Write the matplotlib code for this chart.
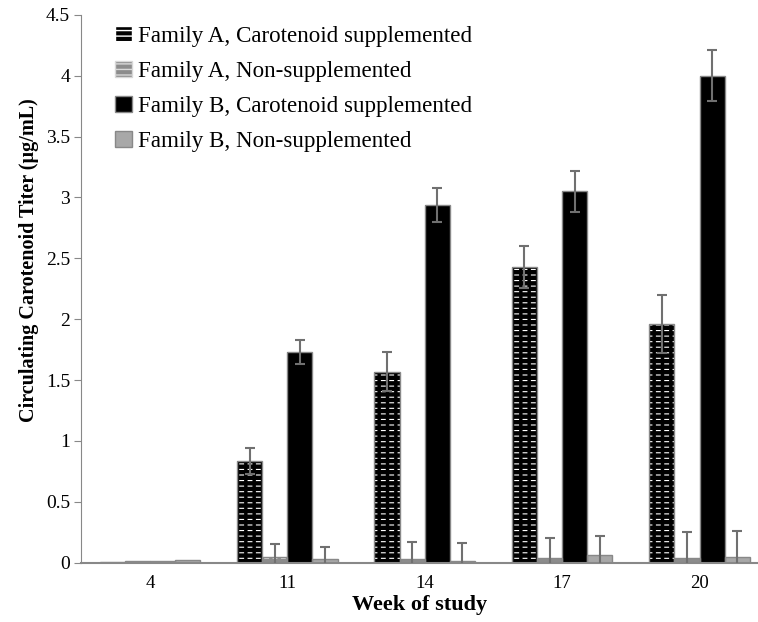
import matplotlib
matplotlib.use("Agg")
import matplotlib.pyplot as plt
from matplotlib.patches import Patch
import numpy as np

weeks = ['4', '11', '14', '17', '20']
labels = ['Family A, Carotenoid supplemented', 'Family A, Non-supplemented',
          'Family B, Carotenoid supplemented', 'Family B, Non-supplemented']

a_supp = [0.01, 0.835, 1.57, 2.43, 1.96]
a_supp_err = [0.0, 0.11, 0.16, 0.17, 0.24]
a_non = [0.015, 0.05, 0.03, 0.04, 0.035]
a_non_err = [0.0, 0.10, 0.14, 0.16, 0.22]
b_supp = [0.015, 1.73, 2.94, 3.05, 4.0]
b_supp_err = [0.0, 0.10, 0.14, 0.17, 0.21]
b_non = [0.025, 0.033, 0.015, 0.06, 0.045]
b_non_err = [0.0, 0.10, 0.145, 0.16, 0.215]

plt.rcParams['font.family'] = ['Liberation Serif', 'DejaVu Serif']

fig = plt.figure(figsize=(7.58, 6.22), dpi=100)
ax = fig.add_axes([0.107, 0.0953, 0.892, 0.881])

x = np.arange(len(weeks))
w = 0.183
offsets = [-1.5 * w, -0.5 * w, 0.5 * w, 1.5 * w]
series = [a_supp, a_non, b_supp, b_non]
errs = [a_supp_err, a_non_err, b_supp_err, b_non_err]
faces = ['black', '#8c8c8c', 'black', '#a8a8a8']
dash_col = ['white', '#d8d8d8', None, None]

for vals, err, off, fc, dc in zip(series, errs, offsets, faces, dash_col):
    if dc is not None:
        # dashed look: thin horizontal hatch lines cut by thick vertical hatch lines
        with plt.rc_context({'hatch.linewidth': 0.8}):
            ax.bar(x + off, vals, w, color=fc, edgecolor=dc, hatch='---', linewidth=0, zorder=2)
        with plt.rc_context({'hatch.linewidth': 2.5}):
            ax.bar(x + off, vals, w, color='none', edgecolor=fc, hatch='||', linewidth=0, zorder=2)
    else:
        ax.bar(x + off, vals, w, color=fc, linewidth=0, zorder=2)
    ax.bar(x + off, vals, w, color='none', edgecolor='#888888', linewidth=1.0, zorder=3)
    yerr = [e if e > 0 else np.nan for e in err]
    ax.errorbar(x + off, vals, yerr=yerr, fmt='none', ecolor='#707070',
                elinewidth=1.5, capsize=3.5, capthick=1.5, zorder=4)

handles = []
for fc, dc in zip(faces, dash_col):
    if dc is not None:
        with plt.rc_context({'hatch.linewidth': 0.8}):
            handles.append(Patch(facecolor=fc, edgecolor=dc, hatch='---'))
    else:
        handles.append(Patch(facecolor=fc, edgecolor='#888888'))
leg = ax.legend(handles, labels, loc='upper left', bbox_to_anchor=(0.037, 0.997),
                frameon=False, fontsize=16.6, handlelength=0.72, handleheight=0.72,
                handletextpad=0.25, labelspacing=0.6, borderaxespad=0)

ax.set_xlim(-0.5, 4.42)
ax.set_ylim(0, 4.5)
ax.set_yticks(np.arange(0, 4.51, 0.5))
ax.set_yticklabels(['0', '0.5', '1', '1.5', '2', '2.5', '3', '3.5', '4', '4.5'])
ax.set_xticks(x)
ax.set_xticklabels(weeks)
ax.tick_params(axis='x', length=0, labelsize=13.5, pad=9)
ax.tick_params(axis='y', length=5, color='#888888', labelsize=14, pad=3)
for s in ['top', 'right']:
    ax.spines[s].set_visible(False)
ax.spines['left'].set_color('#888888')
ax.spines['bottom'].set_color('#888888')
ax.spines['bottom'].set_linewidth(1.5)

ax.set_ylabel('Circulating Carotenoid Titer (µg/mL)', fontsize=14.5, fontweight='bold')
ax.yaxis.set_label_coords(-0.062, 0.553)
ax.set_xlabel('Week of study', fontsize=16, fontweight='bold', labelpad=2)

fig.savefig('out.png', dpi=100)
